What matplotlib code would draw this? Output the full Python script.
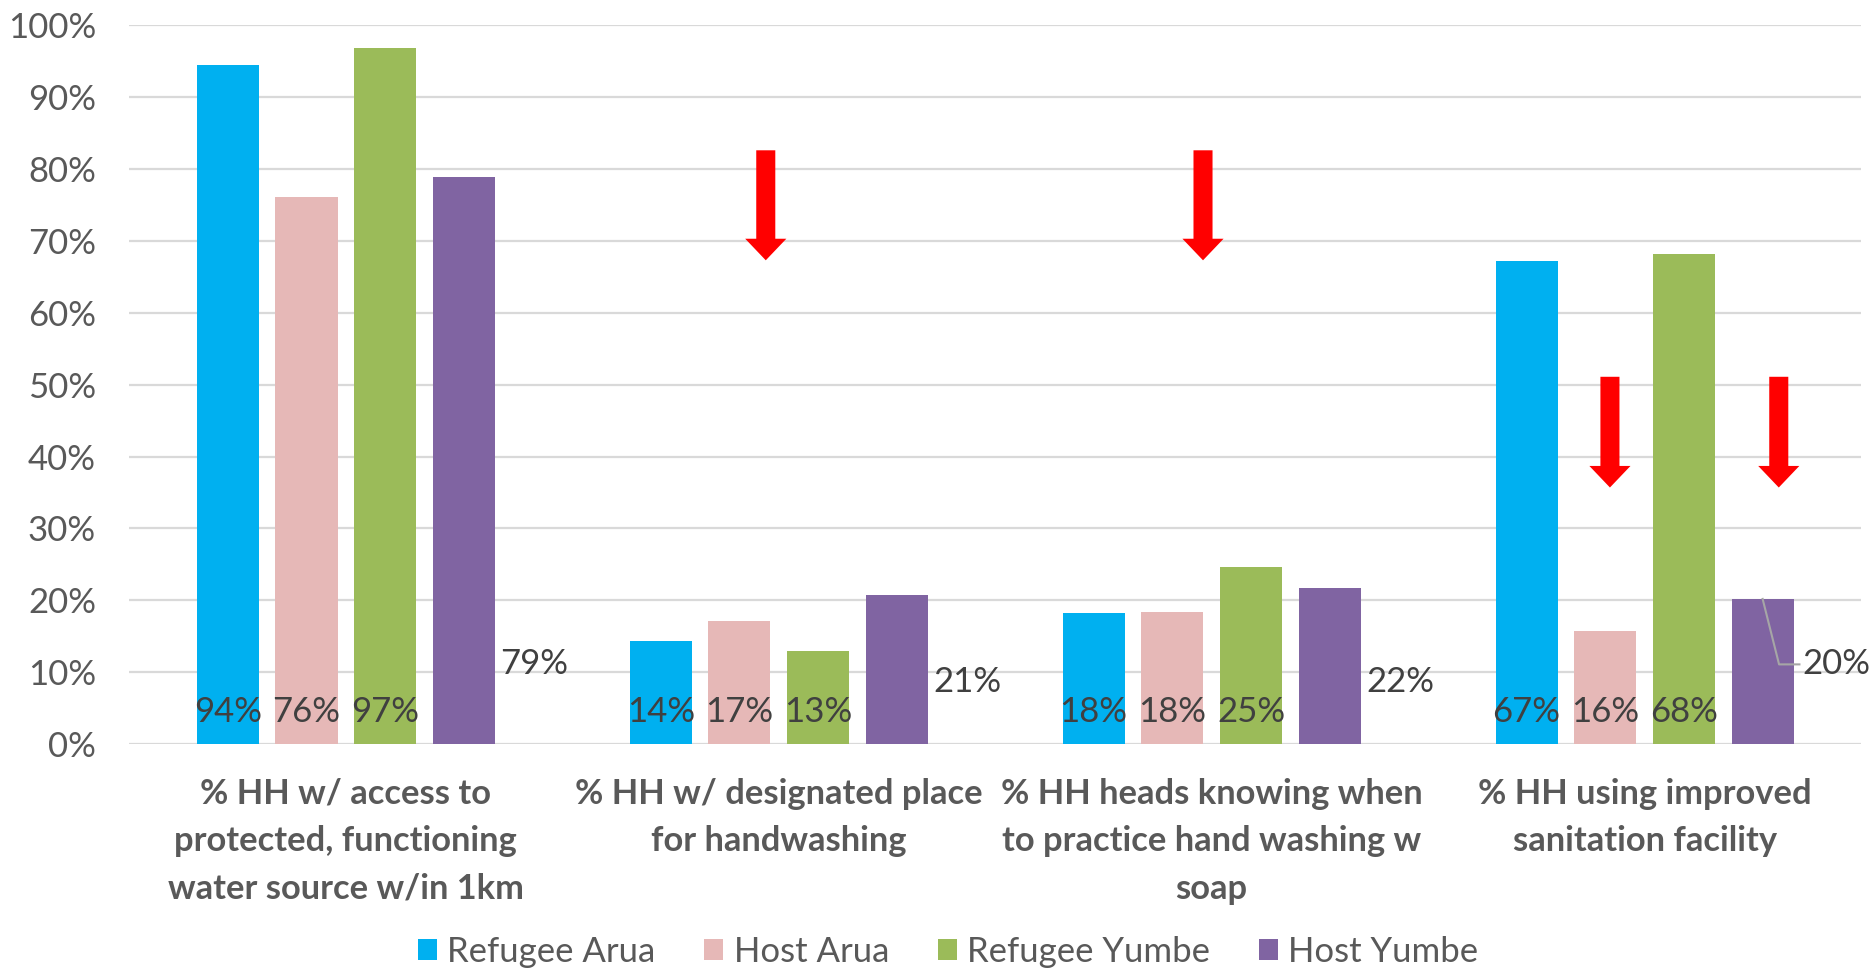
import matplotlib.pyplot as plt
import numpy as np
from matplotlib.patches import FancyArrow

plt.rcParams['font.family'] = ['Lato', 'DejaVu Sans']

categories = ['% HH w/ access to\nprotected, functioning\nwater source w/in 1km',
              '% HH w/ designated place\nfor handwashing',
              '% HH heads knowing when\nto practice hand washing w\nsoap',
              '% HH using improved\nsanitation facility']
series_names = ['Refugee Arua', 'Host Arua', 'Refugee Yumbe', 'Host Yumbe']
refugee_arua = [94.4, 14.4, 18.2, 67.2]
host_arua = [76.1, 17.1, 18.4, 15.8]
refugee_yumbe = [96.8, 12.9, 24.7, 68.2]
host_yumbe = [78.9, 20.7, 21.7, 20.2]
colors = ['#00B0F0', '#E6B8B7', '#9BBB59', '#8064A2']

# where excel put the host yumbe labels (outside end, shifted)
host_yumbe_label_y = [11.1, 8.6, 8.6, 11.1]
# red "down" arrows: x position, top of shaft, tip
arrow_x = [0.97, 1.98, 2.92, 3.31]
arrow_top = [82.6, 82.6, 51.1, 51.1]
arrow_tip = [67.3, 67.3, 35.7, 35.7]

all_series = [refugee_arua, host_arua, refugee_yumbe, host_yumbe]

fig = plt.figure(figsize=(18.7, 9.69), dpi=100)
ax = fig.add_axes([0.0692, 0.232, 0.926, 0.742])

x = np.arange(len(categories))
width = 0.1433
offsets = [-0.2727, -0.0909, 0.0909, 0.2727]

for vals, name, col, off in zip(all_series, series_names, colors, offsets):
    ax.bar(x + off, vals, width, color=col, label=name, zorder=2)

# labels inside base for first three series
for vals, off in zip(all_series[:3], offsets[:3]):
    for xi, v in zip(x, vals):
        ax.text(xi + off, 4.5, f'{round(v)}%', ha='center', va='center',
                fontsize=25, color='#404040', zorder=3)

# host yumbe labels to the right
for i, (v, ly) in enumerate(zip(host_yumbe, host_yumbe_label_y)):
    bx = x[i] + offsets[3]
    if i == 3:
        ax.plot([bx, bx + 0.038, bx + 0.085], [v, ly, ly], color='#A6A6A6', lw=1.5, zorder=3)
        ax.text(bx + 0.092, ly, f'{round(v)}%', ha='left', va='center',
                fontsize=25, color='#404040')
    else:
        ax.text(bx + width / 2 + 0.012, ly, f'{round(v)}%', ha='left', va='center',
                fontsize=25, color='#404040')

for ax_x, top, tip in zip(arrow_x, arrow_top, arrow_tip):
    arr = FancyArrow(ax_x, top, 0, tip - top, width=0.044, head_width=0.095,
                     head_length=3.0, length_includes_head=True,
                     color='#FF0000', lw=0, zorder=4)
    ax.add_patch(arr)

ax.set_xlim(-0.5, 3.5)
ax.set_ylim(0, 100)
ax.set_yticks(range(0, 101, 10))
ax.set_yticklabels([f'{t}%' for t in range(0, 101, 10)])
ax.set_xticks(x)
ax.set_xticklabels(categories, fontweight='bold', linespacing=1.6)
ax.tick_params(axis='y', length=0, pad=24, labelsize=25, labelcolor='#595959')
ax.tick_params(axis='x', length=0, pad=24, labelsize=24.8, labelcolor='#595959')
ax.grid(axis='y', color='#D9D9D9', lw=1.6, zorder=0)
ax.set_axisbelow(True)
for s in ax.spines.values():
    s.set_visible(False)

fig.legend(loc='center', bbox_to_anchor=(0.507, 0.018), ncol=4, frameon=False,
           fontsize=25, handlelength=0.55, handleheight=0.55, handletextpad=0.3,
           columnspacing=1.4, labelcolor='#595959')

fig.savefig('out.png')
